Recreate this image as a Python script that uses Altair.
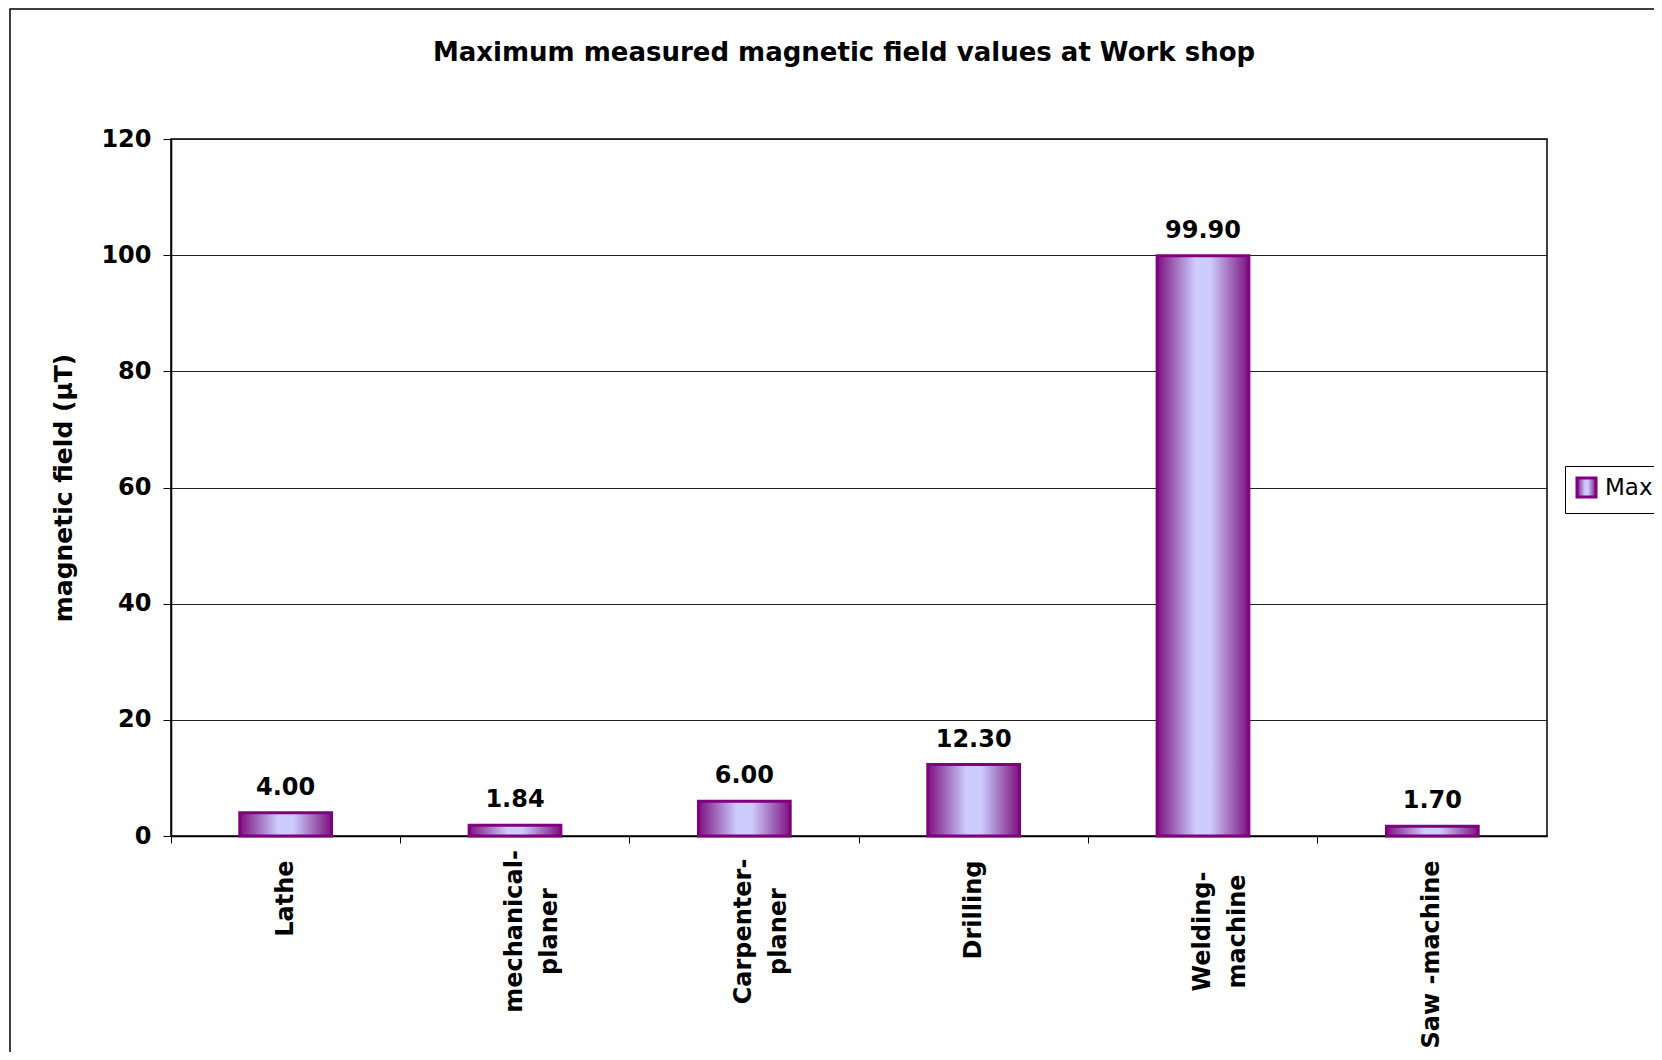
import altair as alt
import pandas as pd

# ---- data ----
categories = ["Lathe", "mechanical-\nplaner", "Carpenter-\nplaner", "Drilling",
              "Welding-\nmachine", "Saw -machine"]
values = [4.00, 1.84, 6.00, 12.30, 99.90, 1.70]
series_name = "Max"
y_ticks = [0, 20, 40, 60, 80, 100, 120]
title_text = "Maximum measured magnetic field values at Work shop"
y_title = "magnetic field (µT)"

df = pd.DataFrame({"machine": categories, "value": values,
                   "series": [series_name] * len(categories)})

W, H = 1376, 697
FONT = "DejaVu Sans"
MULTI = "indexof(datum.value, '\\n') >= 0"

gradient = alt.Gradient(
    gradient="linear", x1=0, x2=1, y1=0, y2=0,
    stops=[
        alt.GradientStop(color="#7d1280", offset=0),
        alt.GradientStop(color="#cccdfd", offset=0.42),
        alt.GradientStop(color="#cccdfd", offset=0.58),
        alt.GradientStop(color="#7d1280", offset=1),
    ],
)

x_enc = alt.X(
    "machine:N", sort=categories, title=None,
    scale=alt.Scale(paddingInner=0, paddingOuter=0),
    axis=alt.Axis(
        bandPosition=0, labelAngle=-90,
        labelExpr="split(datum.label, '\\n')",
        labelFont=FONT, labelFontSize=24, labelFontWeight="bold", labelColor="black",
        labelLineHeight=35, labelBaseline="middle", labelLimit=400, labelOverlap=False,
        labelAlign={"condition": {"test": MULTI, "value": "center"}, "value": "right"},
        labelPadding={"condition": {"test": MULTI, "value": 88}, "value": 17},
        tickSize=7, tickColor="black", domainColor="black", domainWidth=1.5, grid=False,
    ),
)

y_enc = alt.Y(
    "value:Q", title=y_title,
    scale=alt.Scale(domain=[0, 120], nice=False),
    axis=alt.Axis(
        values=y_ticks, format="d",
        labelFont=FONT, labelFontSize=24, labelFontWeight="bold", labelColor="black",
        labelPadding=12, tickSize=8, tickColor="black",
        domainColor="black", domainWidth=1.5,
        gridColor="#222222", gridWidth=1,
        titleFont=FONT, titleFontSize=25, titleFontWeight="bold", titleColor="black",
        titleX=-100, titleY=H / 2, titleAngle=270, titleAlign="center",
        titleBaseline="alphabetic",
    ),
)

frame = alt.Chart(pd.DataFrame({"k": [0]})).mark_rect(
    filled=False, stroke="black", strokeWidth=1.5
).encode(
    x=alt.value(-161), x2=alt.value(W + 400),
    y=alt.value(-130), y2=alt.value(H + 400),
)

bars = alt.Chart(df).mark_bar(
    fill=gradient, strokeWidth=3, width=alt.RelativeBandSize(0.4)
).encode(
    x=x_enc, y=y_enc,
    stroke=alt.Stroke(
        "series:N", scale=alt.Scale(range=["#800080"]),
        legend=alt.Legend(
            title=None, orient="none", legendX=1394, legendY=327, padding=10,
            strokeColor="black", fillColor="white", symbolType="square",
            symbolSize=361, symbolStrokeWidth=3, symbolFillColor="#b4a4e4",
            symbolStrokeColor="#800080", labelFont=FONT, labelFontSize=23,
            labelColor="black", labelOffset=7, labelLimit=400, cornerRadius=0,
        ),
    ),
)

labels = alt.Chart(df).mark_text(
    font=FONT, fontSize=24, fontWeight="bold", color="black",
    baseline="alphabetic", dy=-18,
).encode(x=x_enc, y=y_enc, text=alt.Text("value:Q", format=".2f"))

chart = alt.layer(frame, bars, labels).properties(
    width=W, height=H,
    title=alt.TitleParams(
        title_text, font=FONT, fontSize=26, fontWeight="bold", color="black",
        anchor="middle", frame="group", offset=-58, dx=-15,
    ),
    padding={"left": 163, "top": 131, "right": 107, "bottom": 216},
    autosize=alt.AutoSizeParams(type="none"),
    background="white",
).configure_view(stroke="black", strokeWidth=1.5)

chart.save("out.html", embed_options={"renderer": "svg", "actions": False})
